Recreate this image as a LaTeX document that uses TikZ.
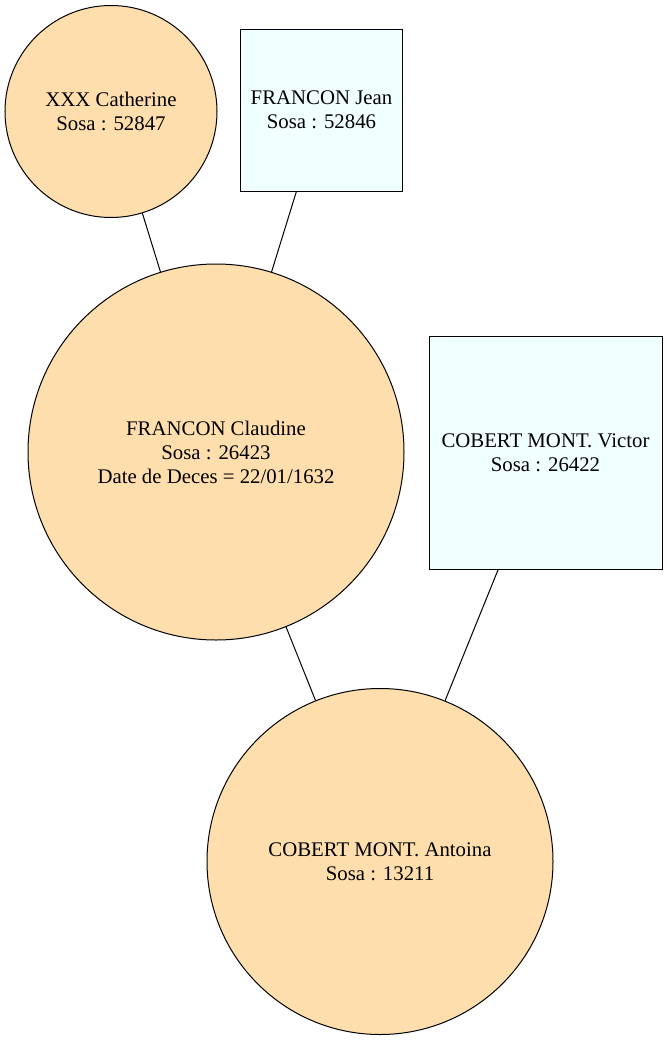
\documentclass[tikz,border=0pt]{standalone}
\usepackage{fontspec}
\setmainfont{Liberation Serif}
\definecolor{navajo}{HTML}{FFDEAD}
\definecolor{azurebox}{HTML}{F0FFFF}
\tikzset{
    person/.style={draw, align=center, inner sep=0pt, line width=0.75pt,
        font=\fontsize{15.6}{18}\selectfont},
    femme/.style={person, circle, fill=navajo, minimum size=#1},
    homme/.style 2 args={person, rectangle, fill=azurebox, minimum width=#1, minimum height=#2},
    lien/.style={line width=0.75pt},
}

\begin{document}
\begin{tikzpicture}[x=0.75pt, y=-0.75pt]
\useasboundingbox (0,0) rectangle (668,1042);
\node[femme=159pt] (catherine) at (111,111.5) {XXX Catherine\\Sosa : 52847};
\node[homme={122pt}{121.5pt}] (jean) at (321.5,110) {FRANCON Jean\\Sosa : 52846};
\node[femme=282pt] (claudine) at (216,452) {FRANCON Claudine\\Sosa : 26423\\Date de Deces = 22/01/1632};
\node[homme={174.75pt}{174.75pt}] (victor) at (545.5,452.5) {COBERT MONT. Victor\\Sosa : 26422};
\node[femme=259.5pt] (antoina) at (380,861.5) {COBERT MONT. Antoina\\Sosa : 13211};
\draw[lien] (catherine) -- (claudine);
\draw[lien] (jean) -- (claudine);
\draw[lien] (claudine) -- (antoina);
\draw[lien] (victor) -- (antoina);
\end{tikzpicture}
\end{document}
